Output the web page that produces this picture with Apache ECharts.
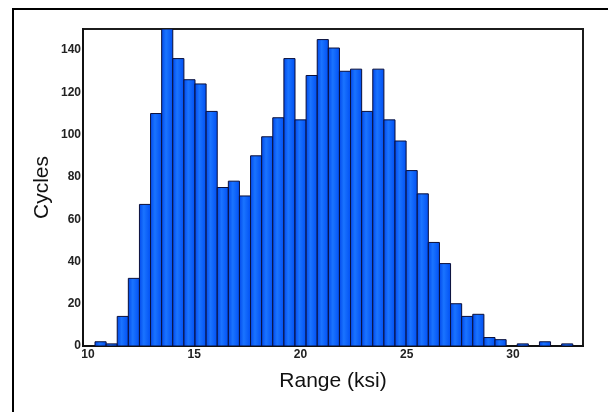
<!DOCTYPE html>
<html>
<head>
<meta charset="utf-8">
<script src="https://cdn.jsdelivr.net/npm/echarts@6/dist/echarts.min.js"></script>
<style>
  html, body { margin: 0; padding: 0; background: #fff; }
  #main { width: 608px; height: 412px; }
</style>
</head>
<body>
<div id="main"></div>
<script>
// histogram bins (ksi) and counts
var binStart = 10.33;
var binWidth = 0.523;
var counts = [2, 1, 14, 32, 67, 110, 150, 136, 126, 124, 111, 75, 78, 71, 90, 99,
  108, 136, 107, 128, 145, 141, 130, 131, 111, 131, 107, 97, 83, 72, 49,
  39, 20, 14, 15, 4, 3, 0, 1, 0, 2, 0, 1];
var xRange = [9.765, 33.3];
var yRange = [0, 150];
var yStep = 20;

var bins = [];
for (var i = 0; i < counts.length; i++) {
  var x0 = binStart + i * binWidth;
  bins.push([x0, x0 + binWidth, counts[i]]);
}

var chart = echarts.init(document.getElementById('main'));

var barFill = new echarts.graphic.LinearGradient(0, 0, 1, 0, [
  {offset: 0, color: '#0046ea'},
  {offset: 0.4, color: '#1a74ff'},
  {offset: 1, color: '#004ef2'}
]);

chart.setOption({
  animation: false,
  graphic: [
    // outer frame (top and left edges only)
    {type: 'rect', shape: {x: 12, y: 8, width: 600, height: 2}, style: {fill: '#000'}},
    {type: 'rect', shape: {x: 12, y: 8, width: 2, height: 410}, style: {fill: '#000'}}
  ],
  grid: {
    left: 83, top: 29, right: 25, bottom: 66,
    show: true, borderColor: '#1c1c1c', borderWidth: 2
  },
  xAxis: {
    type: 'value',
    min: xRange[0],
    max: xRange[1],
    splitNumber: 5,
    name: 'Range (ksi)',
    nameLocation: 'middle',
    nameGap: 25,
    nameMoveOverlap: false,
    nameTextStyle: {fontFamily: 'Liberation Sans', fontSize: 21, color: '#111'},
    axisLine: {show: true, lineStyle: {color: '#111', width: 2}},
    axisTick: {show: false},
    splitLine: {show: false},
    axisLabel: {
      showMinLabel: false, showMaxLabel: false, margin: 3,
      fontFamily: 'Liberation Sans', fontWeight: 'bold', fontSize: 12, color: '#222'
    }
  },
  yAxis: {
    type: 'value',
    min: yRange[0],
    max: yRange[1],
    interval: yStep,
    name: 'Cycles',
    nameLocation: 'middle',
    nameGap: 30,
    nameMoveOverlap: false,
    nameTextStyle: {fontFamily: 'Liberation Sans', fontSize: 21, color: '#111'},
    axisLine: {show: true, lineStyle: {color: '#111', width: 2}},
    axisTick: {show: false},
    splitLine: {show: false},
    axisLabel: {
      showMaxLabel: false, margin: 2,
      fontFamily: 'Liberation Sans', fontWeight: 'bold', fontSize: 12, color: '#222'
    }
  },
  series: [{
    type: 'custom',
    clip: true,
    data: bins,
    encode: {x: [0, 1], y: 2},
    renderItem: function (params, api) {
      var y = api.value(2);
      if (!y) return null;
      var p0 = api.coord([api.value(0), 0]);
      var p1 = api.coord([api.value(1), y]);
      return {
        type: 'rect',
        shape: {x: p0[0], y: p1[1], width: p1[0] - p0[0], height: p0[1] - p1[1]},
        style: {fill: barFill, stroke: '#0a0f3a', lineWidth: 1}
      };
    }
  }]
});
</script>
</body>
</html>
